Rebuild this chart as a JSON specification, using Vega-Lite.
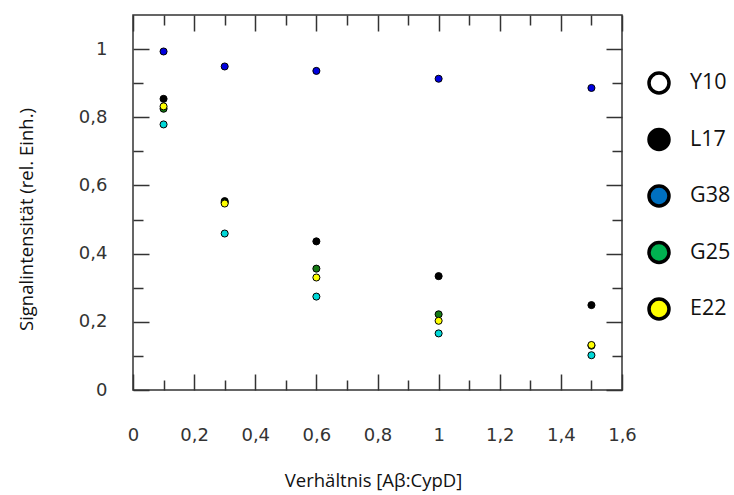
{
  "$schema": "https://vega.github.io/schema/vega-lite/v6.json",
  "width": 489,
  "height": 375,
  "autosize": {"type": "none"},
  "padding": {"left": 133, "top": 15, "right": 112, "bottom": 105},
  "background": "white",
  "config": {
    "view": {"stroke": "#333333", "strokeWidth": 1.5},
    "axis": {
      "domain": false,
      "grid": false,
      "ticks": true,
      "tickSize": -16,
      "tickDash": {"condition": {"test": "round(datum.value*10) % 2 === 1", "value": [10, 40]}, "value": [40, 0]},
      "labelFont": "DejaVu Sans",
      "labelFontSize": 18,
      "labelColor": "#333333",
      "tickColor": "#333333",
      "tickWidth": 1.5,
      "titleFont": "Open Sans",
      "titleFontSize": 18.5,
      "titleFontWeight": "normal",
      "titleColor": "#111111"
    }
  },
  "data": {
    "values": [
      {"ratio": 0.1, "signal": 0.779, "series": "Y10"},
      {"ratio": 0.3, "signal": 0.459, "series": "Y10"},
      {"ratio": 0.6, "signal": 0.274, "series": "Y10"},
      {"ratio": 1.0, "signal": 0.166, "series": "Y10"},
      {"ratio": 1.5, "signal": 0.102, "series": "Y10"},
      {"ratio": 0.1, "signal": 0.854, "series": "L17"},
      {"ratio": 0.3, "signal": 0.554, "series": "L17"},
      {"ratio": 0.6, "signal": 0.436, "series": "L17"},
      {"ratio": 1.0, "signal": 0.334, "series": "L17"},
      {"ratio": 1.5, "signal": 0.249, "series": "L17"},
      {"ratio": 0.1, "signal": 0.993, "series": "G38"},
      {"ratio": 0.3, "signal": 0.949, "series": "G38"},
      {"ratio": 0.6, "signal": 0.936, "series": "G38"},
      {"ratio": 1.0, "signal": 0.913, "series": "G38"},
      {"ratio": 1.5, "signal": 0.886, "series": "G38"},
      {"ratio": 0.1, "signal": 0.825, "series": "G25"},
      {"ratio": 0.3, "signal": 0.55, "series": "G25"},
      {"ratio": 0.6, "signal": 0.356, "series": "G25"},
      {"ratio": 1.0, "signal": 0.222, "series": "G25"},
      {"ratio": 1.5, "signal": 0.13, "series": "G25"},
      {"ratio": 0.1, "signal": 0.832, "series": "E22"},
      {"ratio": 0.3, "signal": 0.547, "series": "E22"},
      {"ratio": 0.6, "signal": 0.33, "series": "E22"},
      {"ratio": 1.0, "signal": 0.203, "series": "E22"},
      {"ratio": 1.5, "signal": 0.132, "series": "E22"}
    ]
  },
  "layer": [
    {
      "mark": {"type": "circle", "size": 50, "stroke": "black", "strokeWidth": 1, "opacity": 1},
      "encoding": {
        "x": {
          "field": "ratio",
          "type": "quantitative",
          "scale": {"domain": [0, 1.6], "nice": false, "zero": false},
          "axis": {
            "orient": "bottom",
            "values": [0, 0.1, 0.2, 0.3, 0.4, 0.5, 0.6, 0.7, 0.8, 0.9, 1, 1.1, 1.2, 1.3, 1.4, 1.5, 1.6],
            "labelExpr": "round(datum.value*10) % 2 === 0 ? replace(toString(round(datum.value*10)/10), '.', ',') : ''",
            "labelPadding": 52,
            "labelFlush": false,
            "labelOverlap": false,
            "title": "Verhältnis [Aβ:CypD]",
            "titleX": 240,
            "titleY": 90,
            "titleBaseline": "middle",
            "titleAnchor": "middle"
          }
        },
        "y": {
          "field": "signal",
          "type": "quantitative",
          "scale": {"domain": [0, 1.1], "nice": false, "zero": false},
          "axis": {
            "orient": "left",
            "values": [0, 0.1, 0.2, 0.3, 0.4, 0.5, 0.6, 0.7, 0.8, 0.9, 1],
            "labelExpr": "round(datum.value*10) % 2 === 0 ? replace(toString(round(datum.value*10)/10), '.', ',') : ''",
            "labelPadding": 42,
            "labelFlush": false,
            "labelOverlap": false,
            "title": "Signalintensität (rel. Einh.)",
            "titleX": -107,
            "titleY": 204,
            "titleAngle": -90,
            "titleBaseline": "middle",
            "titleAnchor": "middle"
          }
        },
        "fill": {
          "field": "series",
          "type": "nominal",
          "scale": {
            "domain": ["E22", "G25", "G38", "L17", "Y10"],
            "range": ["#ffff00", "#157a15", "#0000e0", "#000000", "#00d8d8"]
          },
          "legend": null
        }
      }
    },
    {
      "mark": {"type": "circle", "size": 50, "stroke": "black", "opacity": 0},
      "encoding": {
        "x": {
          "field": "ratio",
          "type": "quantitative",
          "axis": {
            "orient": "top",
            "values": [0, 0.1, 0.2, 0.3, 0.4, 0.5, 0.6, 0.7, 0.8, 0.9, 1, 1.1, 1.2, 1.3, 1.4, 1.5, 1.6],
            "labels": false,
            "title": null
          }
        },
        "y": {
          "field": "signal",
          "type": "quantitative",
          "axis": {
            "orient": "right",
            "values": [0, 0.1, 0.2, 0.3, 0.4, 0.5, 0.6, 0.7, 0.8, 0.9, 1],
            "labels": false,
            "title": null
          }
        },
        "color": {
          "field": "series",
          "type": "nominal",
          "scale": {
            "domain": ["Y10", "L17", "G38", "G25", "E22"],
            "range": ["#ffffff", "#000000", "#0070c0", "#00b050", "#ffff00"]
          },
          "legend": {
            "orient": "none",
            "legendX": 514,
            "legendY": 56,
            "title": null,
            "padding": 0,
            "symbolType": "circle",
            "symbolSize": 400,
            "symbolOpacity": 1,
            "symbolStrokeWidth": 3.5,
            "symbolStrokeColor": "black",
            "labelFont": "Open Sans",
            "labelFontSize": 21.5,
            "labelColor": "#111111",
            "labelOffset": 19,
            "rowPadding": 22.5
          }
        }
      }
    }
  ],
  "resolve": {"axis": {"x": "independent", "y": "independent"}}
}
